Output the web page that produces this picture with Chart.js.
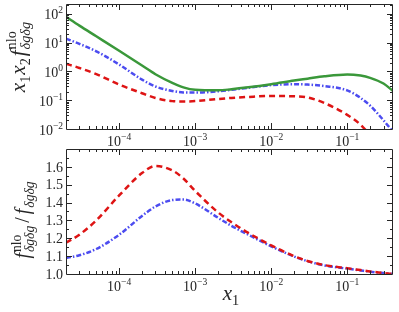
<!DOCTYPE html>
<html>
<head>
<meta charset="utf-8">
<script src="https://cdn.jsdelivr.net/npm/chart.js@4"></script>
<style>
html, body { margin: 0; padding: 0; background: #fff; }
#wrap { position: relative; width: 399px; height: 312px; }
canvas { position: absolute; left: 0; top: 0; }
</style>
</head>
<body>
<div id="wrap">
  <canvas id="topChart" width="399" height="312"></canvas>
  <canvas id="botChart" width="399" height="312"></canvas>
</div>
<script>
xs = [2e-5, 3e-5, 5e-5, 1e-4, 2e-4, 3e-4, 5e-4, 7e-4, 1e-3, 2e-3, 3e-3, 5e-3,
      1e-2, 2e-2, 3e-2, 5e-2, 0.1, 0.15, 0.2, 0.3, 0.4]

// top panel: x1 x2 f^nlo
green = [79, 39, 16.6, 5.2, 1.6, 0.80, 0.40, 0.28, 0.23, 0.22, 0.24, 0.28,
         0.36, 0.48, 0.56, 0.68, 0.79, 0.72, 0.6, 0.38, 0.21]
blue  = [13.8, 9.1, 5.0, 1.74, 0.52, 0.30, 0.21, 0.186, 0.184, 0.204, 0.23, 0.27,
         0.335, 0.36, 0.35, 0.31, 0.22, 0.12, 0.065, 0.02, 0.008]
red   = [1.86, 1.32, 0.81, 0.35, 0.175, 0.12, 0.093, 0.09, 0.093, 0.11, 0.12, 0.13,
         0.14, 0.137, 0.125, 0.08, 0.031, 0.014, 0.006, 0.0015, 0.0005]

// bottom panel: ratio f^nlo / f
redRatio  = [1.175, 1.22, 1.30, 1.44, 1.565, 1.605, 1.58, 1.535, 1.465, 1.345, 1.29, 1.23,
             1.16, 1.10, 1.073, 1.05, 1.032, 1.022, 1.014, 1.006, 1.0]
blueRatio = [1.09, 1.105, 1.14, 1.22, 1.325, 1.378, 1.414, 1.417, 1.395, 1.315, 1.27, 1.22,
             1.155, 1.098, 1.072, 1.048, 1.03, 1.02, 1.013, 1.005, 1.0]

// tick labels
xDecades = [-4, -3, -2, -1]
topDecades = [-2, -1, 0, 1, 2]
ratioTicks = ['1.0', '1.1', '1.2', '1.3', '1.4', '1.5', '1.6']

const SERIF = '"Liberation Serif", "DejaVu Serif", serif';
const INK = '#262626';
const GREEN = '#3a983a', BLUE = '#4c4cf0', RED = '#de1414';

function pts(ys) {
  return xs.map((x, i) => ({x: x, y: ys[i]}));
}

// simple math text: parts {t, i: italic, l: level (1 sup, -1 sub), s: stack with next, g: gap}
function layoutMath(ctx, parts, size) {
  let x = 0, out = [], hold = null;
  parts.forEach((p) => {
    const fs = p.l ? size * 0.68 : size;
    ctx.font = (p.i ? 'italic ' : '') + fs + 'px ' + SERIF;
    const w = ctx.measureText(p.t).width;
    const g = p.g || 0;
    if (hold) {
      out.push({p: p, x: hold.x, fs: fs});
      x = hold.x + Math.max(hold.w, w);
      hold = null;
    } else if (p.s) {
      hold = {x: x + g, w: w};
      out.push({p: p, x: x + g, fs: fs});
    } else {
      out.push({p: p, x: x + g, fs: fs});
      x += g + w;
    }
  });
  return {out: out, w: x};
}

function drawMath(ctx, parts, x, y, size, align) {
  const L = layoutMath(ctx, parts, size);
  const x0 = align === 'right' ? x - L.w : (align === 'center' ? x - L.w / 2 : x);
  ctx.textAlign = 'left';
  ctx.textBaseline = 'alphabetic';
  L.out.forEach((o) => {
    ctx.font = (o.p.i ? 'italic ' : '') + o.fs + 'px ' + SERIF;
    const dy = o.p.l === 1 ? -size * 0.42 : (o.p.l === -1 ? size * 0.26 : 0);
    ctx.fillText(o.p.t, x0 + o.x, y + dy);
  });
}

function rotatedMath(ctx, parts, cx, cy, size) {
  ctx.save();
  ctx.translate(cx, cy);
  ctx.rotate(-Math.PI / 2);
  drawMath(ctx, parts, 0, 0, size, 'center');
  ctx.restore();
}

const axesPlugin = {
  id: 'axes',
  afterDatasetsDraw(chart) {
    const o = chart.options.plugins.axes;
    const ctx = chart.ctx, a = chart.chartArea;
    const sx = chart.scales.x, sy = chart.scales.y;
    ctx.save();
    ctx.strokeStyle = INK;
    ctx.fillStyle = INK;
    ctx.lineWidth = 1;
    ctx.beginPath();
    function xtick(v, len) {
      const p = Math.round(sx.getPixelForValue(v)) + 0.5;
      if (p < a.left + 1 || p > a.right - 1) return;
      ctx.moveTo(p, a.bottom); ctx.lineTo(p, a.bottom - len);
      ctx.moveTo(p, a.top); ctx.lineTo(p, a.top + len);
    }
    function ytick(v, len) {
      const p = Math.round(sy.getPixelForValue(v)) + 0.5;
      if (p < a.top + 1 || p > a.bottom - 1) return;
      ctx.moveTo(a.left, p); ctx.lineTo(a.left + len, p);
      ctx.moveTo(a.right, p); ctx.lineTo(a.right - len, p);
    }
    for (let d = -5; d <= 0; d++) {
      xtick(Math.pow(10, d), 6);
      for (let k = 2; k <= 9; k++) xtick(k * Math.pow(10, d), 3);
    }
    if (o.kind === 'top') {
      for (let d = -2; d <= 2; d++) {
        ytick(Math.pow(10, d), 6);
        for (let k = 2; k <= 9; k++) ytick(k * Math.pow(10, d), 3);
      }
    } else {
      ratioTicks.forEach((t) => ytick(parseFloat(t), 6));
      for (let v = 1.05; v < 1.7; v += 0.1) ytick(v, 3);
    }
    ctx.stroke();
    ctx.beginPath();
    ctx.rect(Math.round(a.left) + 0.5, Math.round(a.top) + 0.5,
             Math.round(a.right - a.left) - 1, Math.round(a.bottom - a.top));
    ctx.stroke();

    // x tick labels
    const xBase = o.kind === 'top' ? 146 : 291;
    xDecades.forEach((d) => {
      const p = sx.getPixelForValue(Math.pow(10, d));
      drawMath(ctx, [{t: '10'}, {t: '\u2212' + Math.abs(d), l: 1}], p, xBase, 14, 'center');
    });

    if (o.kind === 'top') {
      topDecades.forEach((d) => {
        const p = sy.getPixelForValue(Math.pow(10, d));
        const e = d < 0 ? '\u2212' + Math.abs(d) : String(d);
        drawMath(ctx, [{t: '10'}, {t: e, l: 1}], 63, p + 5.5, 14, 'right');
      });
      rotatedMath(ctx, [
        {t: 'x', i: 1}, {t: '1', l: -1}, {t: 'x', i: 1, g: 1}, {t: '2', l: -1},
        {t: 'f', i: 1, g: 2}, {t: 'nlo', l: 1, s: 1, g: 1}, {t: '\u03b4g\u03b4g', i: 1, l: -1}
      ], 25, 57, 21);
    } else {
      ratioTicks.forEach((t) => {
        const p = sy.getPixelForValue(parseFloat(t));
        ctx.font = '14px ' + SERIF;
        ctx.textAlign = 'right';
        ctx.textBaseline = 'alphabetic';
        ctx.fillText(t, 63, p + 4.7);
      });
      rotatedMath(ctx, [
        {t: 'f', i: 1}, {t: 'nlo', l: 1, s: 1, g: 1}, {t: '\u03b4g\u03b4g', i: 1, l: -1},
        {t: '/', g: 3}, {t: 'f', i: 1, g: 3}, {t: '\u03b4g\u03b4g', i: 1, l: -1, g: 1}
      ], 29, 220, 20);
      drawMath(ctx, [{t: 'x', i: 1}, {t: '1', l: -1}], 231, 300, 21, 'center');
    }
    ctx.restore();
  }
};

function line(label, ys, color, dash) {
  return {
    label: label,
    data: pts(ys),
    borderColor: color,
    borderWidth: 2.5,
    borderDash: dash,
    pointRadius: 0,
    fill: false,
    cubicInterpolationMode: 'monotone',
    clip: 0,
  };
}

function makeChart(id, kind, datasets, yScale, padding) {
  return new Chart(document.getElementById(id), {
    type: 'line',
    data: { datasets: datasets },
    options: {
      responsive: false,
      animation: false,
      layout: { padding: padding },
      scales: {
        x: { type: 'logarithmic', min: 2e-5, max: 0.4, display: false },
        y: yScale,
      },
      plugins: {
        legend: { display: false },
        tooltip: { enabled: false },
        axes: { kind: kind },
      },
    },
    plugins: [axesPlugin],
  });
}

var topChart = makeChart('topChart', 'top', [
    line('green', green, GREEN, []),
    line('blue', blue, BLUE, [5, 2, 1.5, 2]),
    line('red', red, RED, [6, 4]),
  ],
  { type: 'logarithmic', min: 0.01, max: 220, display: false },
  { left: 66, right: 6, top: 4, bottom: 183 });

var botChart = makeChart('botChart', 'bot', [
    line('red', redRatio, RED, [6, 4]),
    line('blue', blueRatio, BLUE, [5, 2, 1.5, 2]),
  ],
  { type: 'linear', min: 1.0, max: 1.7, display: false },
  { left: 66, right: 6, top: 149, bottom: 38 });
</script>
</body>
</html>
